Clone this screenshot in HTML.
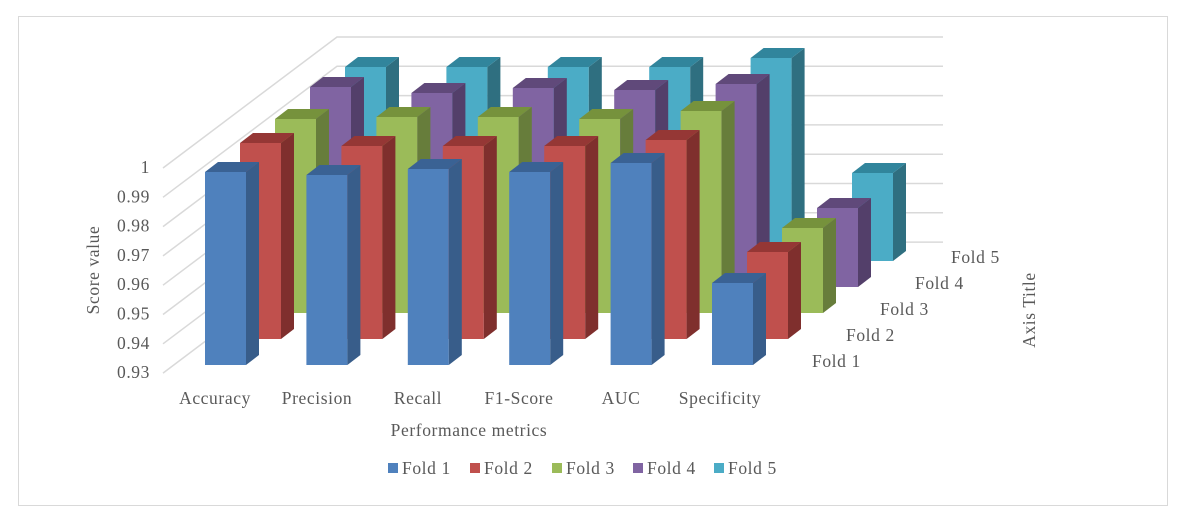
<!DOCTYPE html>
<html><head><meta charset="utf-8"><style>
html,body{margin:0;padding:0;background:#fff;}
svg{display:block;font-family:"Liberation Serif",serif;}
svg text{letter-spacing:0.6px;}
</style></head><body>
<svg width="1185" height="510" viewBox="0 0 1185 510" xmlns="http://www.w3.org/2000/svg">
<rect x="18.5" y="16.5" width="1149" height="489" fill="#fff" stroke="#d9d9d9" stroke-width="1"/>
<g id="grid" stroke="#d9d9d9" stroke-width="1.5" fill="none"></g>
<g id="bars"></g>
<g fill="#595959" font-size="17.5" text-anchor="end" id="ylab"></g>
<text x="99" y="270" font-size="17.5" fill="#595959" text-anchor="middle" transform="rotate(-90 99 270)">Score value</text>
<g fill="#595959" font-size="17.5" text-anchor="middle">
<text x="215" y="404">Accuracy</text>
<text x="317" y="404">Precision</text>
<text x="418" y="404">Recall</text>
<text x="519" y="404">F1-Score</text>
<text x="621" y="404">AUC</text>
<text x="720" y="404">Specificity</text>
<text x="469" y="436">Performance metrics</text>
</g>
<g fill="#595959" font-size="17.5">
<text x="812" y="367">Fold 1</text>
<text x="846" y="341">Fold 2</text>
<text x="880" y="315">Fold 3</text>
<text x="915" y="289">Fold 4</text>
<text x="951" y="263">Fold 5</text>
</g>
<text x="1035" y="310" font-size="17.5" fill="#595959" text-anchor="middle" transform="rotate(-90 1035 310)">Axis Title</text>
<g font-size="17.5" fill="#595959">
<rect x="388" y="463" width="10" height="10" fill="#4f81bd"/><text x="402" y="474">Fold 1</text>
<rect x="470" y="463" width="10" height="10" fill="#c0504d"/><text x="484" y="474">Fold 2</text>
<rect x="552" y="463" width="10" height="10" fill="#9bbb59"/><text x="566" y="474">Fold 3</text>
<rect x="633" y="463" width="10" height="10" fill="#8064a2"/><text x="647" y="474">Fold 4</text>
<rect x="714" y="463" width="10" height="10" fill="#4bacc6"/><text x="728" y="474">Fold 5</text>
</g>
<script>
(function(){
var ns="http://www.w3.org/2000/svg";
var grid=document.getElementById('grid'),ylab=document.getElementById('ylab'),bars=document.getElementById('bars');
var labels=["1","0.99","0.98","0.97","0.96","0.95","0.94","0.93"];
for(var i=0;i<8;i++){
 var fy=168+i*29.3, by=37+i*29.3;
 var p=document.createElementNS(ns,'polyline');
 p.setAttribute('points','163,'+fy+' 337,'+by+' 943,'+by);
 grid.appendChild(p);
 var t=document.createElementNS(ns,'text');
 t.setAttribute('x',150);t.setAttribute('y',fy+5);t.textContent=labels[i];
 ylab.appendChild(t);
}
var cols=[["#4f81bd","#385d8a","#3a6294"],["#c0504d","#7f2f2d","#953735"],["#9bbb59","#677d3b","#76923c"],["#8064a2","#533f6a","#60497a"],["#4bacc6","#2f6f80","#31859c"]];
var tops=[[172,175,169,172,163,283],[143,146,146,146,140,252],[119,117,117,119,111,228],[87,93,88,90,84,208],[67,67,67,67,58,173]];
var W=41,dx=13,dy=-10;
function poly(pts,fill){var p=document.createElementNS(ns,'polygon');p.setAttribute('points',pts.map(function(a){return a.join(',')}).join(' '));p.setAttribute('fill',fill);bars.appendChild(p);}
for(var k=4;k>=0;k--){
 for(var g=0;g<6;g++){
  var x=205+101.4*g+35*k, top=tops[k][g], bot=365-26*k;
  poly([[x,top],[x+W,top],[x+W,bot],[x,bot]],cols[k][0]);
  poly([[x+W,top],[x+W+dx,top+dy],[x+W+dx,bot+dy],[x+W,bot]],cols[k][1]);
  poly([[x,top],[x+dx,top+dy],[x+W+dx,top+dy],[x+W,top]],cols[k][2]);
 }
}
})();
</script>
</svg>
</body></html>
